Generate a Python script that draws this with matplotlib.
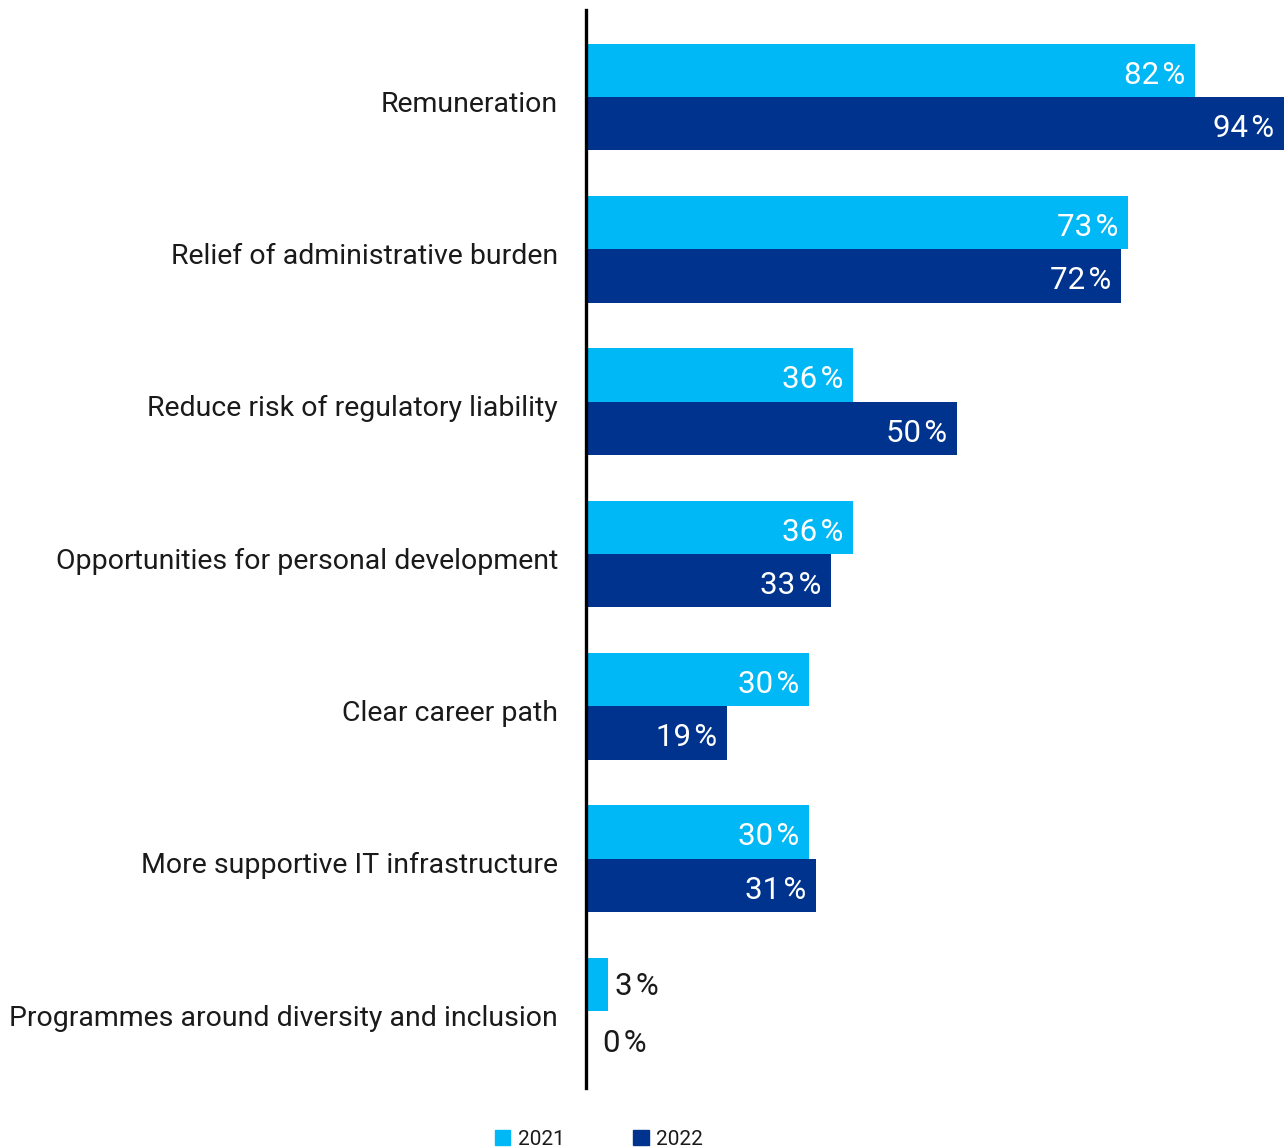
import matplotlib
matplotlib.use("Agg")
import matplotlib.pyplot as plt
from matplotlib.patches import Patch
from matplotlib.transforms import ScaledTranslation

categories = [
    "Remuneration",
    "Relief of administrative burden",
    "Reduce risk of regulatory liability",
    "Opportunities for personal development",
    "Clear career path",
    "More supportive IT infrastructure",
    "Programmes around diversity and inclusion",
]
values_2021 = [82, 73, 36, 36, 30, 30, 3]
values_2022 = [94, 72, 50, 33, 19, 31, 0]
series_names = ["2021", "2022"]

LIGHT = "#00B8F5"
DARK = "#00338D"
TEXT = "#1a1a1a"

plt.rcParams["font.family"] = ["Roboto", "DejaVu Sans"]


def add_labels(ax, bars, values):
    for bar, v in zip(bars, values):
        y = bar.get_y() + bar.get_height() / 2
        label = f"{v}\u200a%"
        if v >= 10:
            ax.annotate(label, (v, y), xytext=(-7, -3.5), textcoords="offset points",
                        ha="right", va="center", color="white", fontsize=22.5)
        else:
            # small values sit just outside the bar
            off, dy = (5, -1.5) if v > 0 else (12, -4)
            ax.annotate(label, (v, y), xytext=(off, dy), textcoords="offset points",
                        ha="left", va="center", color=TEXT, fontsize=22.5)


def main():
    fig = plt.figure(figsize=(12.84, 11.47), dpi=100)
    ax = fig.add_axes([586 / 1284, 59 / 1147, 1 - 586 / 1284, 1078 / 1147])

    n = len(categories)
    pos = list(range(n))
    h = 0.35
    b1 = ax.barh([p - h / 2 for p in pos], values_2021, height=h, color=LIGHT)
    b2 = ax.barh([p + h / 2 for p in pos], values_2022, height=h, color=DARK)
    add_labels(ax, b1, values_2021)
    add_labels(ax, b2, values_2022)

    ax.set_xlim(0, 94)
    ax.set_ylim(n - 1 + 0.505, -0.57)
    ax.set_yticks(pos)
    ax.set_yticklabels(categories, fontsize=20.5, color=TEXT)
    ax.tick_params(axis="y", length=0, pad=20)
    shift = ScaledTranslation(0, -3 / 72, fig.dpi_scale_trans)
    for lbl in ax.get_yticklabels():
        lbl.set_transform(lbl.get_transform() + shift)
    ax.set_xticks([])
    for s in ["top", "right", "bottom"]:
        ax.spines[s].set_visible(False)
    ax.spines["left"].set_linewidth(2.4)
    ax.spines["left"].set_color("black")

    handles = [Patch(color=LIGHT), Patch(color=DARK)]
    fig.legend(handles, series_names, loc="lower left",
               bbox_to_anchor=(476 / 1284, -0.018), ncol=2, frameon=False,
               fontsize=15, labelcolor=TEXT, handlelength=0.75, handleheight=0.75,
               handletextpad=0.35, columnspacing=3.3)

    fig.savefig("out.png", dpi=100)


main()
